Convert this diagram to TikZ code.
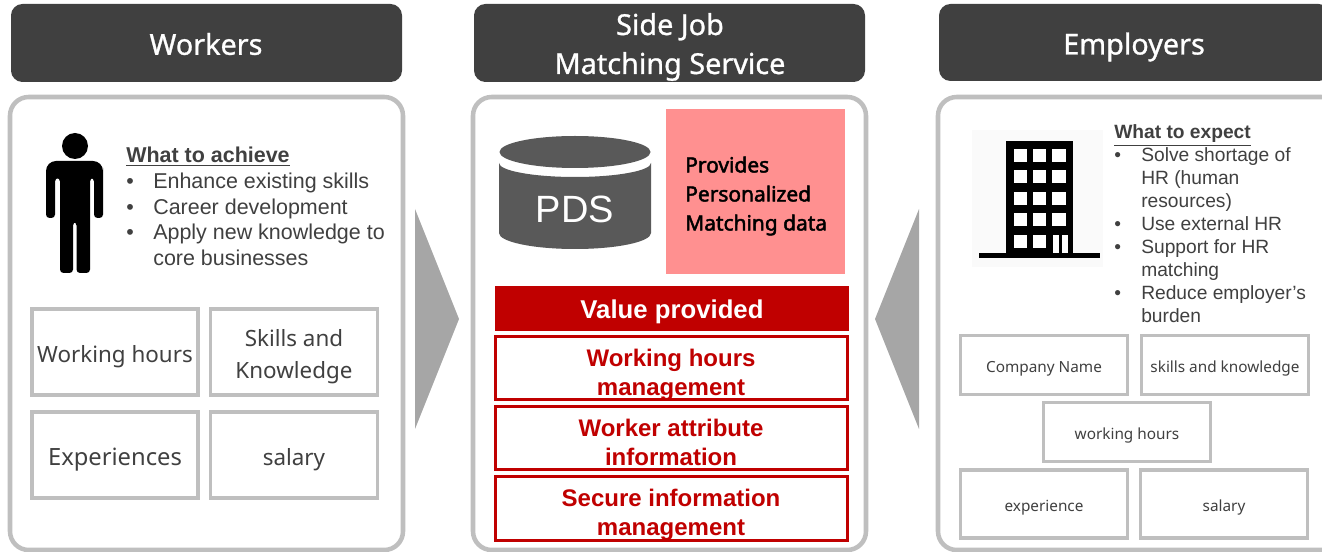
\documentclass[tikz,border=0pt]{standalone}
\usepackage{fontspec}
\setmainfont{Liberation Sans}
\newfontfamily\gothic{Noto Sans}
\newfontfamily\gothicm[FakeBold=1]{Noto Sans}
\newfontfamily\gothicb[FakeBold=2.2]{Noto Sans}
\newcommand{\fs}[1]{\fontsize{#1}{#1}\selectfont}
\newcommand{\fl}[2]{\fontsize{#1}{#2}\selectfont}
\definecolor{hdr}{HTML}{404040}
\definecolor{pan}{HTML}{BFBFBF}
\definecolor{txt}{HTML}{404040}
\definecolor{dbc}{HTML}{595959}
\definecolor{red1}{HTML}{C00000}
\definecolor{pink1}{HTML}{FF9090}
\definecolor{arr}{HTML}{A6A6A6}
\tikzset{
 header/.style={fill=hdr,rounded corners=8.6pt},
 htext/.style={text=white,align=center,inner sep=0pt,font=\gothicm\fl{21.6}{29.25}},
 panel/.style={draw=pan,line width=3.4pt,fill=white,rounded corners=14pt},
 lbox/.style={draw=pan,line width=2.4pt,fill=white,inner sep=0pt},
 bigtext/.style={text=txt,align=center,inner sep=0pt,font=\gothic\fl{16.8}{24}},
 smalltext/.style={text=txt,align=center,inner sep=0pt,font=\gothic\fs{11.5}},
 bigbox/.style={lbox,minimum height=64.5pt,label={[bigtext,yshift=-3.6pt]center:#1}},
 smallbox/.style={lbox,minimum width=125pt,label={[smalltext,yshift=-3pt]center:#1}},
 redbox/.style={draw=red1,line width=2.25pt,fill=white,minimum width=264pt,minimum height=47.5pt,inner sep=0pt},
 redtext/.style={text=red1,align=center,inner sep=0pt,font=\bfseries\fl{18}{21.6}},
 valuetext/.style={text=white,inner sep=0pt,font=\bfseries\fs{19.3}},
 bul/.style={anchor=base west,text=txt,inner sep=0pt,font=\fs{16.1}},
 bulr/.style={anchor=base west,text=txt,inner sep=0pt,font=\fs{14.4}},
}
\begin{document}
\begin{tikzpicture}[x=0.75pt,y=-0.75pt]
\useasboundingbox (0,0) rectangle (1322,552);
% headers
\path[header] (11,4) rectangle (402,82);
\path[header] (474,4) rectangle (865,82);
\path[header] (939,4) rectangle (1330,81);
\node[htext] (hw) at (206,44) {Workers};
\node[htext] (hs) at (670,47) {Side Job\\Matching Service};
\node[htext] (he) at (1134,47) {Employers};
% panels
\draw[panel] (10,97) rectangle (403,550);
\draw[panel] (473,97) rectangle (866,550);
\draw[panel] (938,97) rectangle (1340,550);
% arrows
\fill[arr] (415,209) -- (459,319) -- (415,429) -- cycle;
\fill[arr] (919,209) -- (875,319) -- (919,429) -- cycle;
% person
\fill[black] (75,146) circle (13);
\fill[black,rounded corners=5.25pt] (46,218) -- (46,178) [rounded corners=7.5pt] -- (46,161) -- (103,161) -- (103,178) [rounded corners=2.6pt] -- (103,218) -- (94,218) -- (94,178) -- (90,178) -- (90,273) -- (76.5,273) -- (76.5,222) -- (73,222) -- (73,273) -- (60,273) -- (60,178) -- (55,178) -- (55,218) -- cycle;
% left text
\node[bul,font=\bfseries\fs{16.1}] (wta) at (126,163) {\underline{What to achieve}};
\node[bul] (b1) at (126,189) {•}; \node[bul] (t1) at (153,189) {Enhance existing skills};
\node[bul] (b2) at (126,215) {•}; \node[bul] (t2) at (153,215) {Career development};
\node[bul] (b3) at (126,240) {•}; \node[bul] (t3) at (153,240) {Apply new knowledge to};
\node[bul] (t3b) at (153,266) {core businesses};
% left boxes
\node[bigbox={Working hours},minimum width=124.5pt] (wh) at (115,352) {};
\node[bigbox={Skills and\\Knowledge},minimum width=125pt] (sk) at (294,352) {};
\node[bigbox={\fontsize{17.8}{24}\selectfont Experiences},minimum width=124.5pt] (ex) at (115,455) {};
\node[bigbox={salary},minimum width=125pt] (sa) at (294,455) {};
% database
\fill[dbc] (499,163) arc[start angle=180,end angle=0,x radius=76,y radius=14] -- (651,233) arc[start angle=0,end angle=180,x radius=76,y radius=16] -- cycle;
\fill[dbc] (575,152) ellipse (75.5 and 16);
\node[text=white,font=\fs{28.5}] (pds) at (575,209) {PDS};
% pink
\node[fill=pink1,minimum width=134.25pt,minimum height=123.75pt,inner sep=0pt] (pk) at (755.5,191.5) {};
\node[anchor=west,font=\gothicb\fl{15.7}{21.75},align=left,text=black,inner sep=0pt] (pkt) at (685,196) {Provides\\Personalized\\Matching data};
% value
\node[fill=red1,minimum width=265.5pt,minimum height=33.75pt,inner sep=0pt,label={[valuetext,yshift=-2.25pt]center:Value provided}] (vp) at (672,309) {};
\node[redbox] (r1) at (671,368) {};
\node[redtext] (r1t) at (671,374.5) {Working hours\\management};
\node[redbox] (r2) at (671,438) {};
\node[redtext] (r2t) at (671,442.5) {Worker attribute\\information};
\node[redbox,minimum height=48pt] (r3) at (671,508) {};
\node[redtext] (r3t) at (671,514.5) {Secure information\\management};
% building
\fill[black!2] (972,130) rectangle (1103,267);
\fill[black] (1006,141) rectangle (1073,256);
\foreach \yy in {149,170,192,213,235}{
 \foreach \xx in {1014,1033}{
  \fill[white] (\xx,\yy) rectangle ++(13,13);
 }
}
\foreach \yy in {149,170,192,213}{
  \fill[white] (1052,\yy) rectangle ++(14,13);
}
\fill[white] (1053,235) rectangle (1059,253);
\fill[white] (1062,235) rectangle (1068,253);
\fill[black] (979,253) rectangle (1100,258);
% right text
\node[bulr,font=\bfseries\fs{14.4}] (wte) at (1114,139) {\underline{What to expect}};
\foreach \yy/\bb/\tt in {162/•/Solve shortage of,185//HR (human,208//resources),231/•/Use external HR,254/•/Support for HR,277//matching,300/•/Reduce employer’s,323//burden}{
 \node[bulr] at (1114,\yy) {\bb};
 \node[bulr] at (1141,\yy) {\tt};
}
% right boxes
\node[smallbox={Company Name},minimum height=44.25pt] (cn) at (1044,365) {};
\node[smallbox={skills and knowledge},minimum height=44.25pt] (ks) at (1225,365) {};
\node[smallbox={working hours},minimum height=44.25pt] (wk) at (1127,432) {};
\node[smallbox={experience},minimum height=51pt] (xp) at (1044,504) {};
\node[smallbox={salary},minimum height=51pt] (sl) at (1224,504) {};
\end{tikzpicture}
\end{document}
